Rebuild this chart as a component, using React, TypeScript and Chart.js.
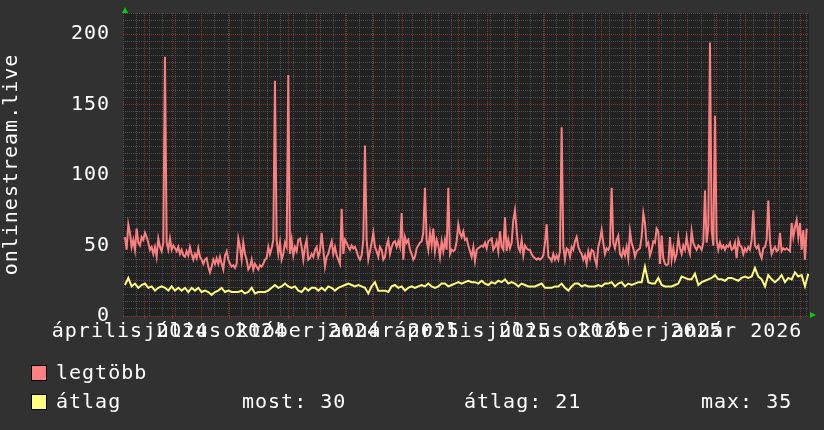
import React, { useEffect, useRef } from 'react';
import { Chart, registerables } from 'chart.js';

Chart.register(...registerables);

// ---- data (x axis in days since 2024-03-09) ----
const X_LABELS = ['április 2024', 'július 2024', 'október 2024', 'január 2025', 'április 2025', 'július 2025', 'október 2025', 'január 2026'];
const X_LABEL_DAYS = [7.5, 98.5, 190.5, 282.5, 372.5, 463.5, 555.5, 647.5];
const MONTH_DAYS = [23, 53, 84, 114, 145, 176, 206, 237, 267, 298, 329, 357, 388, 418, 449, 479, 510, 541, 571, 602, 632, 663, 694, 722];
const MINOR_DAYS = [0, 14, 28, 42, 56, 70, 98, 112, 126, 140, 154, 168, 182, 196, 210, 224, 238, 252, 266, 280, 294, 308, 322, 336, 350, 364, 378, 392, 406, 420, 434, 448, 462, 476, 490, 504, 518, 532, 546, 560, 574, 588, 616, 630, 644, 658, 672, 686, 700, 714, 728];
const X_MAX_DAY = 731;
const Y_MAX = 215;
const START_DAY = 2.1;
const MAX_STEP_DAYS = 1.776;
const AVG_STEP_DAYS = 3.552;

const LEGTOBB = [
  56, 47, 65, 59, 49, 54, 47, 62, 52, 50, 56, 54, 59, 56, 52, 47, 49, 44, 49, 42,
  55, 49, 46, 52, 184, 52, 47, 55, 47, 50, 48, 46, 49, 44, 47, 43, 42, 46, 43, 49,
  44, 40, 44, 41, 48, 42, 40, 37, 40, 41, 35, 31, 35, 40, 37, 41, 37, 42, 37, 33,
  43, 46, 40, 37, 35, 36, 34, 37, 55, 49, 40, 52, 44, 40, 33, 35, 40, 33, 37, 35,
  33, 36, 35, 37, 40, 41, 49, 44, 48, 54, 167, 54, 44, 52, 40, 44, 52, 49, 171, 44,
  54, 43, 49, 46, 54, 55, 49, 40, 49, 54, 40, 41, 44, 42, 47, 49, 42, 46, 59, 47,
  35, 42, 44, 49, 53, 44, 49, 43, 40, 37, 76, 44, 54, 52, 49, 47, 50, 48, 49, 46,
  42, 40, 43, 54, 121, 54, 40, 46, 52, 59, 49, 46, 42, 49, 47, 40, 42, 50, 54, 44,
  49, 52, 53, 49, 53,
  49, 73, 40, 56, 52, 54, 47, 44, 40, 42, 48, 50, 52, 53, 59, 91, 54, 47, 59, 50,
  62, 46, 54, 50, 42, 53, 46, 54, 47, 91, 44, 47, 46, 47, 53, 65, 59, 56, 60, 54,
  55, 50, 46, 42, 49, 39, 47, 48, 49, 50, 49, 52, 48, 53, 54, 55, 47, 49, 53, 46,
  60, 49, 47, 70, 46, 54, 48, 52, 68, 75, 61, 49, 46, 54, 43, 50, 48, 47, 47, 44,
  42, 41, 40, 41, 40, 41, 43, 52, 65, 42, 41, 39, 44, 40, 43, 40, 46, 134, 49, 40,
  48, 47, 42, 49, 47, 53, 56, 49, 46, 44, 40, 43, 37, 46, 41, 47, 46, 40, 36, 49,
  54, 61, 52, 44, 48, 47, 50, 91, 52, 48, 54, 57, 44, 42, 47, 43, 49, 41, 60, 52,
  48, 42, 46, 47, 48, 56, 73, 66, 50, 52, 43, 47, 53, 52, 62, 60, 37, 57, 41, 37,
  36, 37, 56, 40, 48, 40, 44, 56, 48, 44, 50, 47, 56, 48, 44, 60, 52, 49, 47, 50,
  49, 47, 52, 89, 52, 63, 194, 61, 50, 142, 54, 47, 52, 48, 50, 47, 50, 49, 52, 47,
  48, 52, 41, 54, 50, 49, 44, 48, 46, 49, 47, 54, 75, 50, 48, 50, 44, 41, 48, 49,
  54, 82, 53, 44, 47, 49, 46, 47, 59, 46, 48, 47, 48, 47, 46, 66, 56, 63, 68, 56,
  66, 47, 61, 40, 62,
];

const ATLAG = [
  22, 27, 21, 23, 20, 22, 23, 20, 21, 18, 20, 21, 20, 18, 21, 18, 20, 18, 20, 17,
  20, 18, 20, 17, 18, 17, 15, 17, 18, 20, 17, 18, 17, 17, 17, 18, 16, 17, 20, 16,
  17, 17, 17, 18, 20, 22, 20, 21, 23, 21, 20, 21, 18, 17, 20, 18, 20, 20, 18, 20,
  18, 21, 20, 18, 20, 21, 22, 23, 22, 21, 22, 21, 20, 16, 21, 24, 18, 18, 18, 17,
  21, 22, 20,
  21, 18, 20, 21, 20, 21, 22, 21, 23, 21, 20, 21, 23, 23, 21, 22, 23, 24, 23, 24,
  25, 24, 24, 23, 25, 23, 22, 24, 23, 25, 24, 26, 23, 24, 23, 21, 23, 22, 21, 21,
  21, 22, 23, 20, 20, 20, 21, 21, 23, 20, 18, 21, 23, 23, 21, 22, 21, 21, 21, 22,
  21, 23, 23, 24, 21, 23, 24, 21, 23, 22, 23, 24, 24, 35, 24, 23, 23, 27, 22, 21,
  21, 21, 22, 23, 28, 27, 26, 26, 30, 22, 24, 25, 26, 27, 29, 26, 26, 25, 27, 27,
  26, 25, 27, 28, 27, 28, 34, 28, 26, 21, 29, 26, 24, 26, 29, 24, 27, 26, 31, 28,
  29, 21, 30,
];

const LEGEND_MAX = 'legtöbb';
const LEGEND_AVG = 'átlag';
const STAT_LABELS = ['most: 30', 'átlag: 21', 'max: 35'];

const Y_TITLE = 'onlinestream.live';

// ---- styles ----
const FONT = "'DejaVu Sans Mono', monospace";
const BACK = '#313131';
const CANVAS_BG = '#222222';
const MINOR = '#4e4e4e';
const MAJOR = '#7c3434';
const RED = '#ff8080';
const YELLOW = '#ffff80';
const ARROW = '#00cc00';
const TEXT = '#ffffff';

const LABEL_SET = new Set(X_LABEL_DAYS);
const MONTH_SET = new Set(MONTH_DAYS);

const rrdPlugin = {
  id: 'rrdLook',
  beforeDraw(chart: any) {
    const { ctx, chartArea: a, width, height } = chart;
    ctx.save();
    ctx.fillStyle = BACK;
    ctx.fillRect(0, 0, width, height);
    ctx.fillStyle = CANVAS_BG;
    ctx.fillRect(a.left, a.top, a.right - a.left, a.bottom - a.top);
    ctx.restore();
    ctx.letterSpacing = '1px';
  },
  afterDraw(chart: any) {
    const { ctx, chartArea: a } = chart;
    ctx.save();
    // arrows
    ctx.fillStyle = ARROW;
    ctx.beginPath();
    ctx.moveTo(a.left + 2, a.top - 6);
    ctx.lineTo(a.left - 1, a.top);
    ctx.lineTo(a.left + 5, a.top);
    ctx.closePath();
    ctx.fill();
    ctx.beginPath();
    ctx.moveTo(a.right + 7, a.bottom - 1);
    ctx.lineTo(a.right + 1, a.bottom - 4);
    ctx.lineTo(a.right + 1, a.bottom + 2);
    ctx.closePath();
    ctx.fill();

    // legend
    ctx.letterSpacing = '1px';
    ctx.font = `20px ${FONT}`;
    ctx.textBaseline = 'alphabetic';
    ctx.textAlign = 'left';
    const rows = [
      { color: RED, label: LEGEND_MAX, base: 379 },
      { color: YELLOW, label: LEGEND_AVG, base: 408 },
    ];
    rows.forEach((r) => {
      ctx.fillStyle = r.color;
      ctx.fillRect(31, r.base - 14, 16, 16);
      ctx.strokeStyle = '#000000';
      ctx.lineWidth = 1;
      ctx.strokeRect(31.5, r.base - 13.5, 15, 15);
      ctx.fillStyle = TEXT;
      ctx.fillText(r.label, 56, r.base);
    });
    const statX = [242, 464, 701];
    STAT_LABELS.forEach((s, i) => ctx.fillText(s, statX[i], 408));
    ctx.restore();
  },
};

export default function App() {
  const ref = useRef<HTMLCanvasElement | null>(null);

  useEffect(() => {
    document.body.style.margin = '0';
    document.documentElement.style.overflow = 'hidden';
    document.body.style.overflow = 'hidden';
    const canvas = ref.current;
    if (!canvas) return;

    const maxData = LEGTOBB.map((v, i) => ({ x: START_DAY + i * MAX_STEP_DAYS, y: v }));
    const avgData = ATLAG.map((v, i) => ({ x: START_DAY + i * AVG_STEP_DAYS, y: v }));
    const allXTicks = Array.from(new Set([...MINOR_DAYS, ...MONTH_DAYS, ...X_LABEL_DAYS])).sort((p, q) => p - q);

    const chart = new Chart(canvas, {
      type: 'line',
      data: {
        datasets: [
          { label: LEGEND_MAX, data: maxData, borderColor: RED, borderWidth: 2, pointRadius: 0, tension: 0, fill: false },
          { label: LEGEND_AVG, data: avgData, borderColor: YELLOW, borderWidth: 2, pointRadius: 0, tension: 0, fill: false },
        ],
      },
      options: {
        animation: false,
        responsive: false,
        events: [],
        layout: { padding: { top: 13, right: 15, left: 0, bottom: 0 } },
        plugins: { legend: { display: false }, tooltip: { enabled: false }, title: { display: false } },
        scales: {
          x: {
            type: 'linear',
            min: 0,
            max: X_MAX_DAY,
            afterBuildTicks: (scale: any) => {
              scale.ticks = allXTicks.map((v) => ({ value: v }));
            },
            afterFit: (scale: any) => {
              scale.height = 114;
              scale.paddingLeft = 0;
              scale.paddingRight = 0;
            },
            ticks: {
              autoSkip: false,
              maxRotation: 0,
              minRotation: 0,
              padding: 1,
              color: TEXT,
              font: { family: FONT, size: 20 },
              callback: (value: any) => {
                const idx = X_LABEL_DAYS.indexOf(Number(value));
                return idx >= 0 ? X_LABELS[idx] : '';
              },
            },
            grid: {
              drawOnChartArea: true,
              drawTicks: true,
              tickLength: 3,
              lineWidth: 1,
              color: (c: any) => {
                const v = c.tick ? c.tick.value : -1;
                if (LABEL_SET.has(v)) return 'rgba(0,0,0,0)';
                return MONTH_SET.has(v) ? MAJOR : MINOR;
              },
              tickColor: (c: any) => {
                const v = c.tick ? c.tick.value : -1;
                return MONTH_SET.has(v) ? MAJOR : 'rgba(0,0,0,0)';
              },
            },
            border: { display: false, dash: [1, 1] },
          },
          y: {
            type: 'linear',
            min: 0,
            max: Y_MAX,
            afterFit: (scale: any) => {
              scale.width = 123;
              scale.paddingTop = 0;
              scale.paddingBottom = 0;
            },
            ticks: {
              stepSize: 5,
              autoSkip: false,
              padding: 13,
              color: TEXT,
              font: { family: FONT, size: 20 },
              callback: (value: any) => (Number(value) % 50 === 0 ? String(value) : ''),
            },
            grid: {
              drawTicks: false,
              lineWidth: 1,
              color: (c: any) => {
                const v = c.tick ? c.tick.value : -1;
                return v % 50 === 0 ? MAJOR : MINOR;
              },
            },
            border: { display: false, dash: [1, 1] },
            title: {
              display: true,
              text: Y_TITLE,
              color: TEXT,
              font: { family: FONT, size: 20 },
              padding: 0,
            },
          },
        },
      },
      plugins: [rrdPlugin],
    });

    return () => chart.destroy();
  }, []);

  return <canvas ref={ref} width={824} height={430} style={{ display: 'block', width: 824, height: 430 }} />;
}
